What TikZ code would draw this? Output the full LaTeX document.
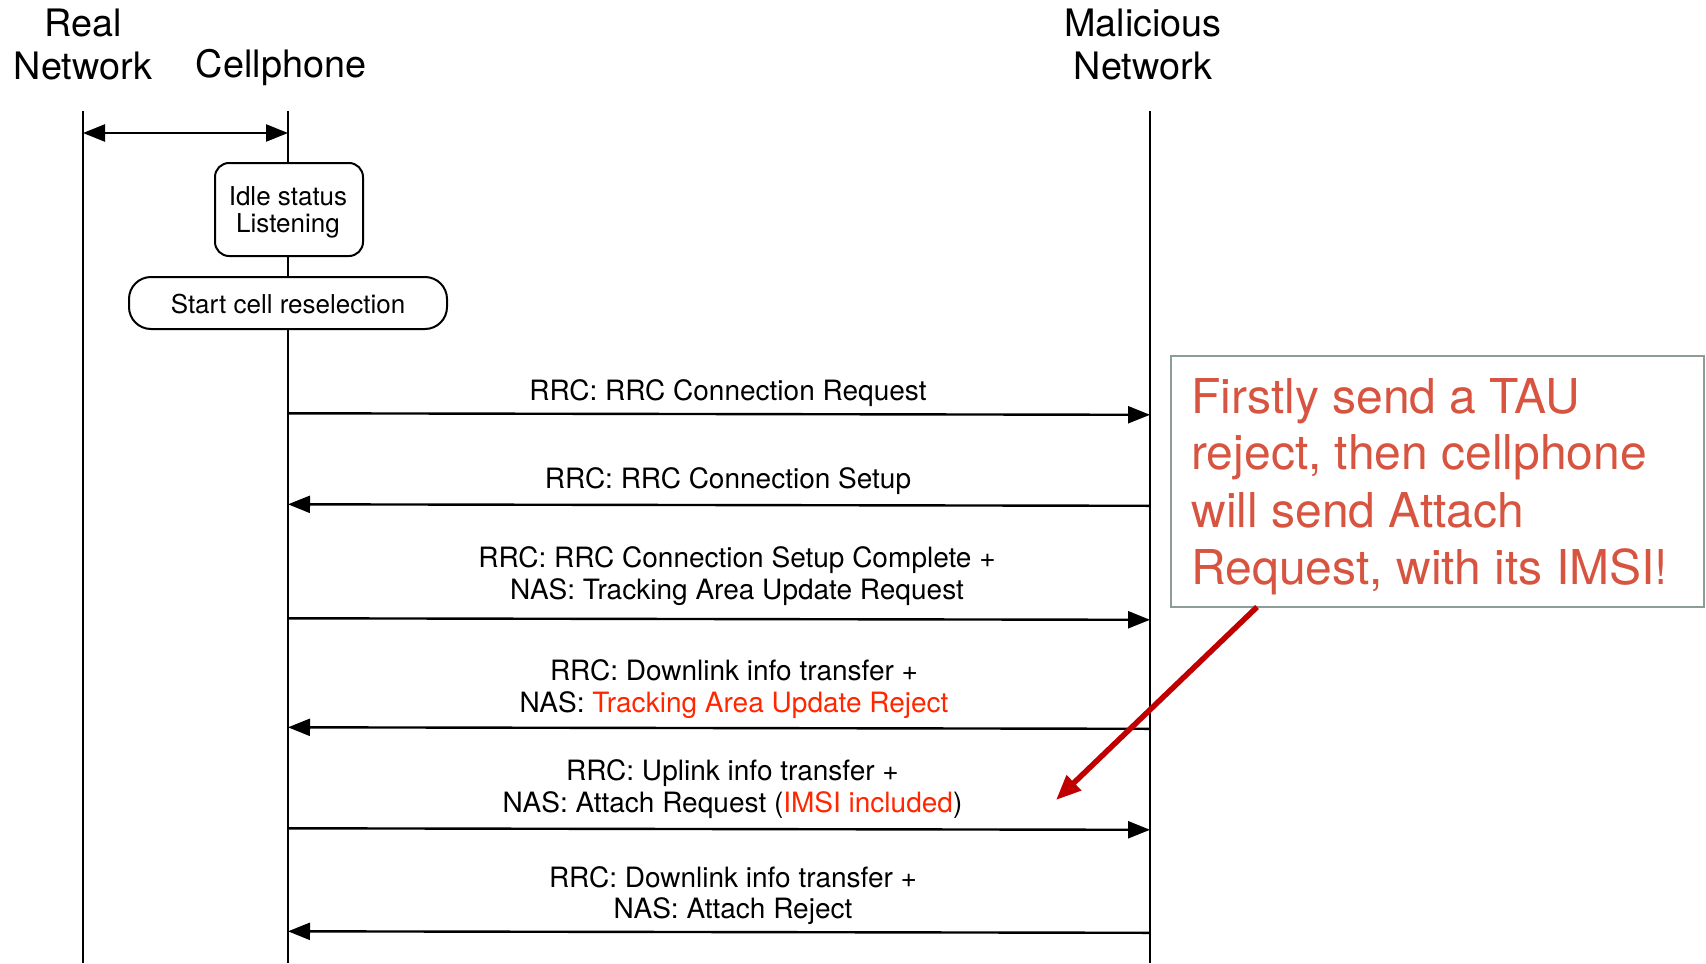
\documentclass[tikz,border=0pt]{standalone}
\usepackage{fontspec}
\setmainfont{TeX Gyre Heros}
\usetikzlibrary{arrows.meta}
\definecolor{tred}{RGB}{255,38,0}
\definecolor{noteclr}{RGB}{214,84,64}
\definecolor{noteborder}{RGB}{140,156,150}
\definecolor{darkred}{RGB}{192,0,0}
\begin{document}
\begin{tikzpicture}[x=0.5pt,y=-0.5pt,
  life/.style={line width=1pt},
  msg/.style={line width=1.2pt,-{Triangle[length=11pt,width=8.5pt]}},
  dmsg/.style={line width=1.2pt,{Triangle[length=11pt,width=8.5pt]}-{Triangle[length=11pt,width=8.5pt]}},
  head/.style={font=\fontsize{18.9}{21.5}\selectfont, inner sep=0, anchor=base},
  lbl/.style={font=\fontsize{14}{16}\selectfont, inner sep=0, anchor=base},
  stxt/.style={font=\fontsize{13}{14}\selectfont, inner sep=0, anchor=base},
  notetxt/.style={font=\fontsize{24}{28.5}\selectfont, text=noteclr, inner sep=0, anchor=base west},
  state/.style={draw, line width=1pt, fill=white, inner sep=0},
  note/.style={draw=noteborder, line width=0.75pt, fill=white, inner sep=0},
  callout/.style={draw=darkred, line width=2.75pt, -{Triangle[length=12.5pt,width=10pt]}}]
\path[use as bounding box] (0,0) rectangle (1706,963);

% headers
\node[head] (realh1) at (83,37) {Real};
\node[head] (realh2) at (83,80) {Network};
\node[head] (cellh) at (281,78) {Cellphone};
\node[head] (malh1) at (1143,37) {Malicious};
\node[head] (malh2) at (1143,80) {Network};

% lifelines
\coordinate (rT) at (83,111);  \coordinate (rB) at (83,963);
\coordinate (cT) at (288,111); \coordinate (cB) at (288,963);
\coordinate (mT) at (1150,111); \coordinate (mB) at (1150,963);
\draw[life] (rT) -- (rB);
\draw[life] (cT) -- (cB);
\draw[life] (mT) -- (mB);

% real <-> cellphone
\coordinate (d1) at (83,133); \coordinate (d2) at (288,133);
\draw[dmsg] (d1) -- (d2);

% states
\node[state, rounded corners=7pt, minimum width=74pt, minimum height=46.5pt] (idle) at (289,209.5) {};
\node[stxt] (idle1) at (288,205) {Idle status};
\node[stxt] (idle2) at (288,232) {Listening};
\node[state, rounded corners=11pt, minimum width=159pt, minimum height=26pt] (resel) at (288,303) {};
\node[stxt] (resel1) at (288,313) {Start cell reselection};

% messages
\coordinate (c1) at (288,413.3);  \coordinate (m1) at (1150,414.8);
\coordinate (c2) at (288,504.3);  \coordinate (m2) at (1150,505.8);
\coordinate (c3) at (288,618.3);  \coordinate (m3) at (1150,619.8);
\coordinate (c4) at (288,727.3);  \coordinate (m4) at (1150,728.8);
\coordinate (c5) at (288,828.3);  \coordinate (m5) at (1150,829.8);
\coordinate (c6) at (288,931.3);  \coordinate (m6) at (1150,932.8);

\draw[msg] (c1) -- (m1);
\draw[msg] (m2) -- (c2);
\draw[msg] (c3) -- (m3);
\draw[msg] (m4) -- (c4);
\draw[msg] (c5) -- (m5);
\draw[msg] (m6) -- (c6);

\node[lbl] (l1) at (728,400) {RRC: RRC Connection Request};
\node[lbl] (l2) at (728,488) {RRC: RRC Connection Setup};
\node[lbl] (l3a) at (737,567) {RRC: RRC Connection Setup Complete +};
\node[lbl] (l3b) at (737,599) {NAS: Tracking Area Update Request};
\node[lbl] (l4a) at (734,680) {RRC: Downlink info transfer +};
\node[lbl] (l4b) at (734,712) {NAS: \textcolor{tred}{Tracking Area Update Reject}};
\node[lbl] (l5a) at (732.5,780) {RRC: Uplink info transfer +};
\node[lbl] (l5b) at (732.5,812) {NAS: Attach Request (\textcolor{tred}{IMSI included})};
\node[lbl] (l6a) at (733,887) {RRC: Downlink info transfer +};
\node[lbl] (l6b) at (733,918) {NAS: Attach Reject};

% note
\node[note, minimum width=266.5pt, minimum height=125.5pt] (note) at (1437.5,481.5) {};
\node[notetxt] (n1) at (1191,413) {Firstly send a TAU};
\node[notetxt] (n2) at (1191,469) {reject, then cellphone};
\node[notetxt] (n3) at (1191,527) {will send Attach};
\node[notetxt] (n4) at (1191,584) {Request, with its IMSI!};

\coordinate (ct) at (1257,607);
\coordinate (ch) at (1056,800);
\draw[callout] (ct) -- (ch);
\end{tikzpicture}
\end{document}
